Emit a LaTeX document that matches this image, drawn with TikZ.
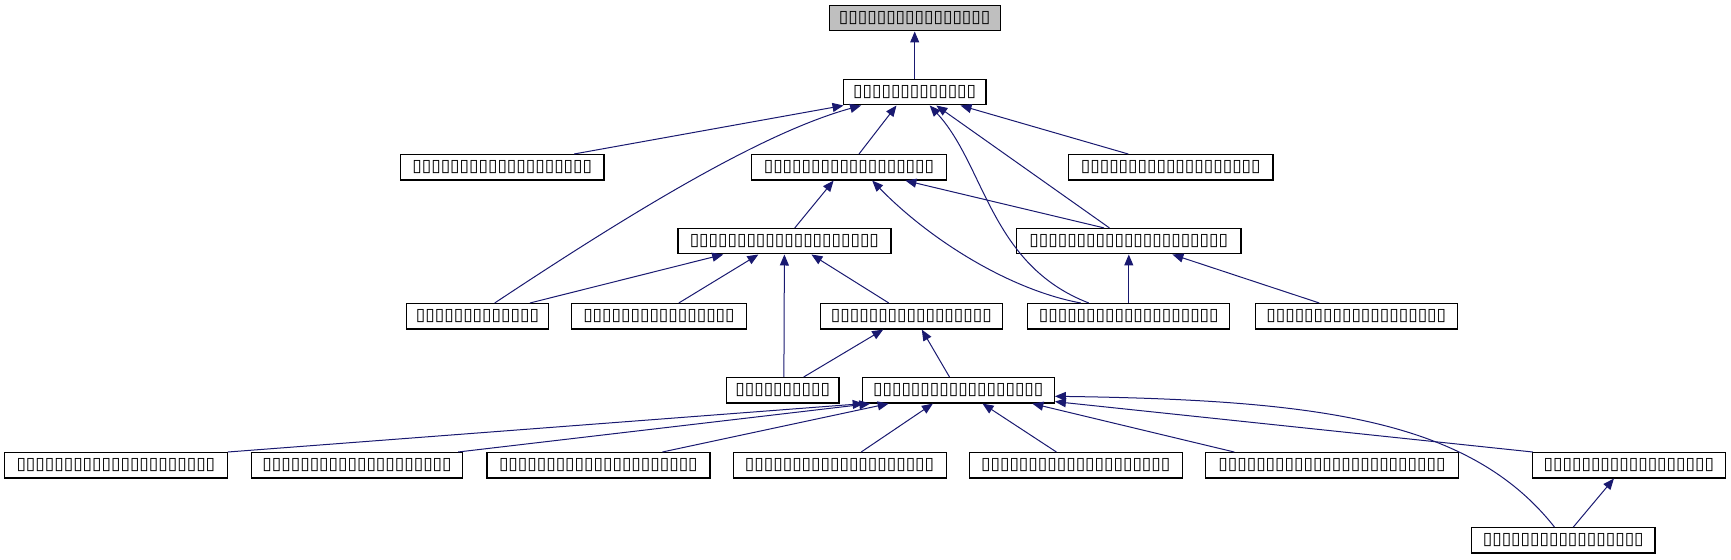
\documentclass[tikz,border=0pt]{standalone}
\usepackage{fontspec}
\usetikzlibrary{arrows.meta}
\newfontfamily\tofufont{DejaVu Sans}
\definecolor{edgeblue}{HTML}{191970}
\definecolor{rootgray}{HTML}{BFBFBF}
\newcommand{\tofus}[1]{{\tofufont\fontsize{8.6}{9}\selectfont\foreach \k in {1,...,#1}{\char"25AF}}}

\begin{document}
\begin{tikzpicture}[x=0.5pt, y=-0.5pt,
  cls/.style={draw=black, line width=0.6pt, fill=white, minimum height=12.7pt, inner sep=0pt},
  link/.style={draw=edgeblue, line width=0.5pt, -{Triangle[length=5.5pt, width=4.5pt]}}]
\useasboundingbox (0,0) rectangle (1731,560);

\node[cls, fill=rootgray, minimum width=85.5pt] (root) at (914.7,18.2) {\tofus{16}};
\node[cls, minimum width=71.2pt] (base) at (914.7,92.2) {\tofus{13}};

\node[cls, minimum width=101.6pt] (l2a) at (502.3,167.3) {\tofus{19}};
\node[cls, minimum width=97.2pt] (l2b) at (849,167.3) {\tofus{18}};
\node[cls, minimum width=102.1pt] (l2c) at (1170.8,167.3) {\tofus{19}};

\node[cls, minimum width=106.5pt] (l3a) at (784.4,241.2) {\tofus{20}};
\node[cls, minimum width=112.1pt] (l3b) at (1128.8,241.2) {\tofus{21}};

\node[cls, minimum width=71.2pt] (l4a) at (477.5,316.3) {\tofus{13}};
\node[cls, minimum width=87.2pt] (l4b) at (659,316.3) {\tofus{16}};
\node[cls, minimum width=91.1pt] (l4c) at (911.4,316.3) {\tofus{17}};
\node[cls, minimum width=101pt] (l4d) at (1128.8,316.3) {\tofus{19}};
\node[cls, minimum width=101pt] (l4e) at (1356.3,316.3) {\tofus{19}};

\node[cls, minimum width=56.3pt] (l5a) at (782.7,390.3) {\tofus{10}};
\node[cls, minimum width=96pt] (l5b) at (958.3,390.3) {\tofus{18}};

\node[cls, minimum width=111.5pt] (l6a) at (115.9,465.3) {\tofus{21}};
\node[cls, minimum width=105.4pt] (l6b) at (357.1,465.3) {\tofus{20}};
\node[cls, minimum width=111.5pt] (l6c) at (598.4,465.3) {\tofus{21}};
\node[cls, minimum width=106.5pt] (l6d) at (839.6,465.3) {\tofus{20}};
\node[cls, minimum width=106.5pt] (l6e) at (1075.8,465.3) {\tofus{20}};
\node[cls, minimum width=126.4pt] (l6f) at (1332,465.3) {\tofus{24}};
\node[cls, minimum width=96.6pt] (l6g) at (1628.9,465.3) {\tofus{18}};

\node[cls, minimum width=91.6pt] (l7a) at (1563.3,540.4) {\tofus{17}};

\draw[link] (base.north) -- (root.south);

\draw[link] ([xshift=35.9pt]l2a.north) -- ([xshift=-35.6pt]base.south);
\draw[link] ([xshift=8.6pt]l4a.north) .. controls (629,214) and (761,133) .. ([xshift=-26.8pt]base.south);
\draw[link] ([xshift=5pt]l2b.north) -- ([xshift=-9.1pt]base.south);
\draw[link] ([xshift=-20pt]l4d.north) .. controls (990,265) and (985,165) .. ([xshift=7.5pt]base.south);
\draw[link] ([xshift=-9.7pt]l3b.north) -- ([xshift=10.8pt]base.south);
\draw[link] ([xshift=-21.3pt]l2c.north) -- ([xshift=22.9pt]base.south);

\draw[link] ([xshift=5.2pt]l3a.north) -- ([xshift=-7.7pt]l2b.south);
\draw[link] ([xshift=-24pt]l4d.north) .. controls (1010,290) and (930,240) .. ([xshift=11.6pt]l2b.south);
\draw[link] ([xshift=-12.4pt]l3b.north) -- ([xshift=28.2pt]l2b.south);

\draw[link] ([xshift=26.2pt]l4a.north) -- ([xshift=-30.6pt]l3a.south);
\draw[link] ([xshift=9.9pt]l4b.north) -- ([xshift=-13pt]l3a.south);
\draw[link] ([xshift=0.6pt]l5a.north) -- (l3a.south);
\draw[link] ([xshift=-11.3pt]l4c.north) -- ([xshift=13.5pt]l3a.south);

\draw[link] (l4d.north) -- (l3b.south);
\draw[link] ([xshift=-18.5pt]l4e.north) -- ([xshift=21.8pt]l3b.south);

\draw[link] ([xshift=10.5pt]l5a.north) -- ([xshift=-14.1pt]l4c.south);
\draw[link] ([xshift=-4.4pt]l5b.north) -- ([xshift=5.2pt]l4c.south);

\draw[link] (l6a.north east) -- ([xshift=1pt]l5b.south west);
\draw[link] ([xshift=50.5pt]l6b.north) -- ([xshift=-44pt]l5b.south);
\draw[link] ([xshift=32pt]l6c.north) -- ([xshift=-34.8pt]l5b.south);
\draw[link] ([xshift=10.8pt]l6d.north) -- ([xshift=-12.7pt]l5b.south);
\draw[link] ([xshift=-9.7pt]l6e.north) -- ([xshift=12.1pt]l5b.south);
\draw[link] ([xshift=-48.9pt]l6f.north) -- ([xshift=37pt]l5b.south);
\draw[link] ([xshift=0.5pt]l6g.north west) -- ([yshift=1pt]l5b.south east);
\draw[link] ([xshift=-4.4pt]l7a.north) .. controls (1470,420) and (1320,400) .. ([yshift=-3pt]l5b.east);

\draw[link] ([xshift=5pt]l7a.north) -- ([xshift=-7.5pt]l6g.south);
\end{tikzpicture}
\end{document}
